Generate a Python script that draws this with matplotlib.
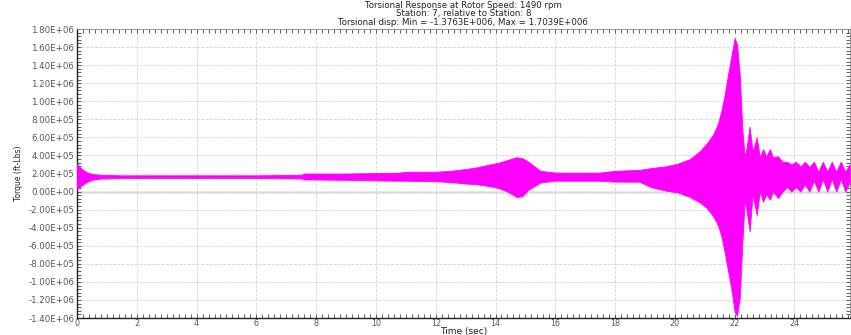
import matplotlib
matplotlib.use("Agg")
import matplotlib.pyplot as plt
import matplotlib.ticker as mtick
import numpy as np

# envelope of the torsional torque trace (x 1e6 ft-lbs)
time_s = [0.0, 0.1, 0.2, 0.35, 0.5, 0.8, 1.5, 4.0, 6.0, 7.5, 7.6, 9.0,
          10.8, 11.0, 12.0, 12.5, 13.0, 13.4, 13.8, 14.1, 14.4, 14.7, 14.9,
          15.1, 15.3, 15.5, 16.0, 17.5, 18.0, 18.8, 19.2, 19.7, 20.1, 20.5,
          20.84, 21.06, 21.28, 21.45, 21.56, 21.67, 21.78, 21.9, 22.0, 22.08,
          22.17, 22.26, 22.34, 22.4, 22.5, 22.6, 22.74, 22.84, 22.95, 23.06,
          23.18, 23.28, 23.45, 23.6, 23.75, 23.9, 24.05, 24.2, 24.35, 24.5,
          24.65, 24.8, 24.95, 25.1, 25.25, 25.4, 25.55, 25.7, 25.85]
upper = [0.31, 0.27, 0.24, 0.21, 0.195, 0.185, 0.18, 0.18, 0.18, 0.185, 0.20, 0.20,
         0.21, 0.22, 0.22, 0.23, 0.25, 0.27, 0.30, 0.32, 0.35, 0.38, 0.37,
         0.33, 0.28, 0.23, 0.21, 0.21, 0.23, 0.24, 0.26, 0.28, 0.31, 0.36,
         0.45, 0.53, 0.63, 0.76, 0.90, 1.08, 1.30, 1.52, 1.70, 1.63,
         1.30, 0.67, 0.38, 0.49, 0.72, 0.44, 0.60, 0.38, 0.47, 0.39,
         0.47, 0.38, 0.39, 0.33, 0.33, 0.30, 0.33, 0.28, 0.33, 0.27,
         0.33, 0.22, 0.33, 0.22, 0.33, 0.22, 0.33, 0.22, 0.30]
lower = [0.03, 0.05, 0.08, 0.11, 0.13, 0.145, 0.15, 0.15, 0.15, 0.145, 0.135, 0.13,
         0.12, 0.12, 0.115, 0.105, 0.09, 0.08, 0.06, 0.04, 0.0, -0.06, -0.05,
         0.02, 0.06, 0.10, 0.12, 0.12, 0.11, 0.11, 0.05, 0.01, -0.01, -0.06,
         -0.12, -0.18, -0.27, -0.38, -0.50, -0.68, -0.88, -1.10, -1.33, -1.376,
         -1.18, -0.55, -0.07, -0.22, -0.44, -0.03, -0.26, 0.0, -0.11, -0.03,
         -0.09, 0.0, -0.07, 0.0, 0.05, 0.0, 0.05, 0.0, 0.08, 0.0,
         0.12, 0.0, 0.14, 0.0, 0.14, 0.0, 0.14, 0.0, 0.10]

t = np.array(time_s)
up = np.array(upper) * 1e6
lo = np.array(lower) * 1e6


def sci(v, pos):
    if v == 0:
        return '0.00E+00'
    e = int(np.floor(np.log10(abs(v)) + 1e-9))
    return '%.2fE%+03d' % (v / 10 ** e, e)


fig = plt.figure(figsize=(8.51, 3.35), dpi=100)
ax = fig.add_axes([0.0905, 0.0507, 0.908, 0.8627])

ax.fill_between(t, lo, up, color='#ff00ff', linewidth=0.6, edgecolor='#ff00ff', zorder=3)

ax.axhline(0, color='#e6e6e6', linewidth=2, zorder=1)

ax.set_xlim(0, 25.85)
ax.set_ylim(-1.4e6, 1.8e6)
ax.xaxis.set_major_locator(mtick.MultipleLocator(2))
ax.xaxis.set_minor_locator(mtick.MultipleLocator(0.2))
ax.yaxis.set_major_locator(mtick.MultipleLocator(2e5))
ax.yaxis.set_minor_locator(mtick.MultipleLocator(4e4))
ax.yaxis.set_major_formatter(mtick.FuncFormatter(sci))
ax.xaxis.set_major_formatter(mtick.FormatStrFormatter('%d'))

ax.grid(True, which='major', color='#d4d4d4', linestyle='--', linewidth=0.6, zorder=0)
ax.tick_params(which='both', direction='in', top=True, right=True, length=3,
               width=0.6, colors='#444444', labelsize=6.2, labelcolor='#555555', pad=2)
ax.tick_params(axis='x', labelsize=5.8, pad=1)

for side in ['left', 'bottom']:
    ax.spines[side].set_color('#222222')
    ax.spines[side].set_linewidth(1.0)
for side in ['top', 'right']:
    ax.spines[side].set_color('#888888')
    ax.spines[side].set_linewidth(0.6)

ax.set_title('Torsional Response at Rotor Speed: 1490 rpm\n'
             'Station: 7, relative to Station: 8\n'
             'Torsional disp: Min = -1.3763E+006, Max = 1.7039E+006',
             fontsize=6.2, linespacing=0.95, pad=3, color='#222222')
ax.set_xlabel('Time (sec)', fontsize=6.5, labelpad=-1, color='#222222')
ax.set_ylabel('Torque (ft-Lbs)', fontsize=5.5, labelpad=4, color='#222222')

plt.savefig('out.png', dpi=100)
